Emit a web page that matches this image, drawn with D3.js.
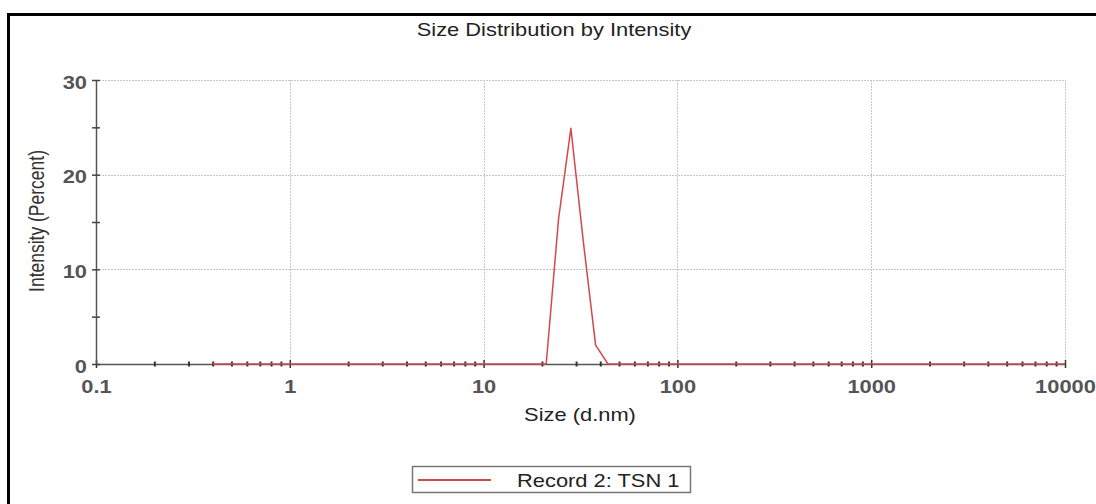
<!DOCTYPE html>
<html>
<head>
<meta charset="utf-8">
<script src="https://cdn.jsdelivr.net/npm/d3@7"></script>
<style>
  body { margin: 0; background: #fff; }
  svg { display: block; font-family: "Liberation Sans", Arial, sans-serif; }
</style>
</head>
<body>
<div id="chart"></div>
<script>
// size bins (d.nm) as reported by the instrument
const sizes = [0.4, 0.4632, 0.5365, 0.6213, 0.7195, 0.8332, 0.9649, 1.117, 1.294, 1.499,
    1.736, 2.01, 2.328, 2.696, 3.122, 3.615, 4.187, 4.849, 5.615, 6.503,
    7.531, 8.721, 10.1, 11.7, 13.54, 15.69, 18.17, 21.04, 24.36, 28.21,
    32.67, 37.84, 43.82, 50.75, 58.77, 68.06, 78.82, 91.28, 105.7, 122.4,
    141.8, 164.2, 190.1, 220.2, 255.0, 295.3, 342.0, 396.1, 458.7, 531.2,
    615.1, 712.4, 825.0, 955.4, 1106, 1281, 1484, 1718, 1990, 2305,
    2669, 3091, 3580, 4145, 4801, 5560, 6439, 7456, 8635, 10000];

// intensity (%) per bin
const intensity = [0, 0, 0, 0, 0, 0, 0, 0, 0, 0,
    0, 0, 0, 0, 0, 0, 0, 0, 0, 0,
    0, 0, 0, 0, 0, 0, 0, 0, 15.3, 24.9,
    13.0, 2.0, 0, 0, 0, 0, 0, 0, 0, 0,
    0, 0, 0, 0, 0, 0, 0, 0, 0, 0,
    0, 0, 0, 0, 0, 0, 0, 0, 0, 0,
    0, 0, 0, 0, 0, 0, 0, 0, 0, 0];

const xTicks = [0.1, 1, 10, 100, 1000, 10000];
const xTickLabels = ["0.1", "1", "10", "100", "1000", "10000"];
const yTicks = [0, 10, 20, 30];
const yMinorTicks = [5, 15, 25];
const seriesName = "Record 2: TSN 1";
const title = "Size Distribution by Intensity";
const xLabel = "Size (d.nm)";
const yLabel = "Intensity (Percent)";

const width = 1096, height = 504;
const stretch = 1.25; // picture is wider than the original plot

let svg = d3.select("#chart")
    .append("svg")
    .attr("width", width)
    .attr("height", height);

// scales
let x = d3.scaleLog().domain([0.1, 10000]).range([96, 1065]);
let y = d3.scaleLinear().domain([0, 30]).range([364, 80]);

// frame
svg.append("line")
    .attr("x1", 8.5).attr("x2", 8.5).attr("y1", 13).attr("y2", height)
    .attr("stroke", "#000").attr("stroke-width", 3);
svg.append("line")
    .attr("x1", 7).attr("x2", width).attr("y1", 14.5).attr("y2", 14.5)
    .attr("stroke", "#000").attr("stroke-width", 3);

// grid
let grid = svg.append("g")
    .attr("stroke", "#c8c8c8")
    .attr("stroke-width", 1)
    .attr("stroke-dasharray", "2,1");
grid.selectAll(".gy").data(yTicks.slice(1)).enter().append("line")
    .attr("x1", x(0.1)).attr("x2", x(10000))
    .attr("y1", (d) => Math.round(y(d)) + 0.5)
    .attr("y2", (d) => Math.round(y(d)) + 0.5);
grid.selectAll(".gx").data(xTicks.slice(1)).enter().append("line")
    .attr("x1", (d) => Math.round(x(d)) + 0.5)
    .attr("x2", (d) => Math.round(x(d)) + 0.5)
    .attr("y1", y(30)).attr("y2", y(0));

// x axis
let xAxis = svg.append("g")
    .attr("transform", "translate(0," + y(0) + ")")
    .call(d3.axisBottom(x).tickValues(x.ticks()).tickFormat((d) => {
        let i = xTicks.indexOf(d);
        return i >= 0 ? xTickLabels[i] : "";
    }).tickSizeOuter(0));
xAxis.select(".domain").attr("stroke", "#555").attr("stroke-width", 1.5);
xAxis.selectAll(".tick line")
    .attr("y1", (d) => xTicks.indexOf(d) >= 0 ? -4 : -2.5)
    .attr("y2", (d) => xTicks.indexOf(d) >= 0 ? 4 : 2.5)
    .attr("stroke", "#333")
    .attr("stroke-width", (d) => xTicks.indexOf(d) >= 0 ? 1.5 : 2);
xAxis.selectAll(".tick text")
    .attr("y", 0).attr("dy", 0)
    .attr("transform", "translate(0,29) scale(" + stretch + ",1)")
    .attr("font-family", "Liberation Sans, Arial, sans-serif")
    .attr("font-size", "17.5px")
    .attr("font-weight", "bold")
    .attr("fill", "#555");

// y axis
let yAxis = svg.append("g")
    .attr("transform", "translate(" + x(0.1) + ",0)")
    .call(d3.axisLeft(y).tickValues(yTicks.concat(yMinorTicks)).tickFormat((d) => {
        return yTicks.indexOf(d) >= 0 ? d : "";
    }).tickSizeOuter(0));
yAxis.select(".domain").attr("stroke", "#555").attr("stroke-width", 1.5);
yAxis.selectAll(".tick line")
    .attr("x1", -4).attr("x2", 4)
    .attr("stroke", "#444").attr("stroke-width", 1.5);
yAxis.selectAll(".tick text")
    .attr("x", 0).attr("dy", 0)
    .attr("transform", "translate(-9,8) scale(" + stretch + ",1)")
    .attr("font-family", "Liberation Sans, Arial, sans-serif")
    .attr("font-size", "17.5px")
    .attr("font-weight", "bold")
    .attr("fill", "#555");

// the distribution line
let points = sizes.map((d, i) => ({ size: d, value: intensity[i] }));
svg.append("path")
    .datum(points)
    .attr("d", d3.line()
        .x((d) => x(d.size))
        .y((d) => y(d.value)))
    .attr("fill", "none")
    .attr("stroke", "#d4484c")
    .attr("stroke-width", 1.5)
    .attr("stroke-linejoin", "round");

// texts
function addText(px, py, str, anchor, size, color, extra) {
    return svg.append("text")
        .attr("transform", "translate(" + px + "," + py + ") scale(" + stretch + ",1)" + (extra || ""))
        .attr("text-anchor", anchor)
        .attr("font-size", size + "px")
        .attr("fill", color)
        .text(str);
}

addText(554, 36, title, "middle", 17.5, "#222");
addText(580, 421, xLabel, "middle", 17.5, "#222");
addText(44, 221, yLabel, "middle", 17.5, "#333", " rotate(-90)");

// legend
svg.append("rect")
    .attr("x", 412.5).attr("y", 466.5)
    .attr("width", 278).attr("height", 26)
    .attr("fill", "#fff")
    .attr("stroke", "#777").attr("stroke-width", 1.5);
svg.append("line")
    .attr("x1", 418).attr("x2", 491).attr("y1", 480).attr("y2", 480)
    .attr("stroke", "#d4484c").attr("stroke-width", 2);
addText(517, 487, seriesName, "start", 17.5, "#222");
</script>
</body>
</html>
